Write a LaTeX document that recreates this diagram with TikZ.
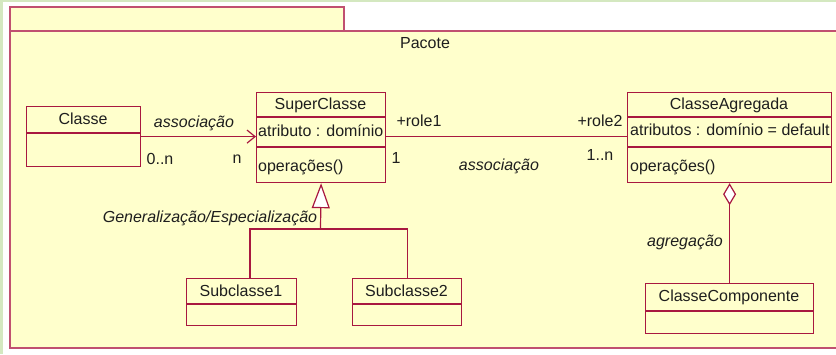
\documentclass[tikz,border=0pt]{standalone}
\usepackage{fontspec}
\setmainfont{Liberation Sans}
\usetikzlibrary{arrows.meta}
\definecolor{pkgfill}{RGB}{255,255,204}
\definecolor{pkgline}{RGB}{192,80,112}
\definecolor{clsline}{RGB}{168,24,64}
\definecolor{frame}{RGB}{212,232,192}
\definecolor{txt}{RGB}{30,30,30}
\begin{document}
\begin{tikzpicture}[x=1pt,y=-1pt,
  every node/.style={text=txt,font=\fontsize{16}{19}\selectfont,inner sep=0pt},
  cls/.style={draw=clsline,line width=1.2pt,fill=pkgfill,anchor=north west,minimum width=#1},
  ilbl/.style={font=\fontsize{16}{19}\selectfont\itshape},
  conn/.style={draw=clsline,line width=1.2pt},
  pkg/.style={draw=pkgline,line width=1.6pt,fill=pkgfill}]
\useasboundingbox (0,0) rectangle (836,354);
\fill[white] (0,0) rectangle (836,354);
\fill[frame] (0,0) rectangle (3,354);
\fill[frame] (0,0) rectangle (836,2);
% package
\path[pkg] (10,7) rectangle (344,31);
\path[pkg] (10,31) rectangle (845,348);
\node (pacote) at (425,43) {Pacote};
% classes
\node[cls=114pt,minimum height=60pt] (classe) at (26,106) {};
\draw[conn] (26,133) -- (140,133);
\node at (83,119) {Classe};

\node[cls=129pt,minimum height=90pt] (super) at (256,92) {};
\draw[conn] (256,117) -- (385,117) (256,147) -- (385,147);
\node at (320.5,105) {SuperClasse};
\node[anchor=west] at (258,131) {atributo : domínio};
\node[anchor=west] at (258,167) {operações()};

\node[cls=204pt,minimum height=90pt] (agg) at (627,92) {};
\draw[conn] (627,117) -- (831,117) (627,147) -- (831,147);
\node at (729,105) {ClasseAgregada};
\node[anchor=west] at (630,130) {atributos : domínio = default};
\node[anchor=west] at (630,167) {operações()};

\node[cls=110pt,minimum height=47pt] (sub1) at (186,278) {};
\draw[conn] (186,304) -- (296,304);
\node at (241,291) {Subclasse1};

\node[cls=109pt,minimum height=47pt] (sub2) at (352,278) {};
\draw[conn] (352,304) -- (461,304);
\node at (406.5,291) {Subclasse2};

\node[cls=168pt,minimum height=50pt] (comp) at (645,283) {};
\draw[conn] (645,311) -- (813,311);
\node at (729,297) {ClasseComponente};

% associations
\draw[conn,-{Straight Barb[length=8pt,width=13pt,line width=1.2pt]}] (classe.east) -- (classe.east -| super.west);
\node[ilbl] at (194,123) {associação};
\node at (160,159) {0..n};
\node at (237,159) {n};

\draw[conn] (super.east |- classe.east) -- (agg.west |- classe.east);
\node at (419,121) {+role1};
\node at (396,158) {1};
\node at (600,121) {+role2};
\node at (600,155) {1..n};
\node[ilbl] at (499,166) {associação};

% generalization
\coordinate (gj) at (320.5,229);
\draw[conn] (250,278) |- (gj) -| (sub2.north);
\draw[conn,-{Triangle[open,length=25pt,width=18pt,fill=white]}] (gj) -- (super.south);
\node[ilbl] at (210,218) {Generalização/Especialização};

% aggregation
\draw[conn,-{Diamond[open,length=22pt,width=13pt,fill=white]}] (comp.north) -- (agg.south);
\node[ilbl] at (685,242) {agregação};
\end{tikzpicture}
\end{document}
